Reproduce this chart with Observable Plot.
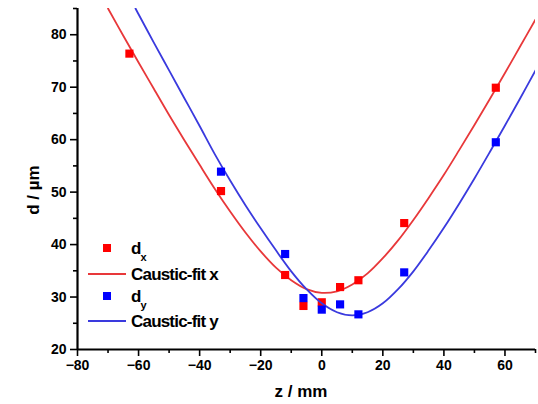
<!DOCTYPE html>
<html>
<head>
<meta charset="utf-8">
<script src="https://cdn.jsdelivr.net/npm/d3@7"></script>
<script src="https://cdn.jsdelivr.net/npm/@observablehq/plot@0.6"></script>
<style>
  html, body { margin: 0; padding: 0; background: #fff; }
  #chart svg text { font-family: "Liberation Sans", Arial, sans-serif; font-weight: bold; }
</style>
</head>
<body>
<div id="chart"></div>
<script>
// Measured points
const zX = [-63, -33, -12, -6, 0, 6, 12, 27, 57];
const dX = [76.4, 50.2, 34.2, 28.3, 29.0, 31.9, 33.2, 44.1, 69.9];
const zY = [-33, -12, -6, 0, 6, 12, 27, 57];
const dY = [53.9, 38.2, 29.8, 27.6, 28.6, 26.7, 34.7, 59.5];

// Fit curves
const fitXz = [-70, -65, -60, -55, -50, -45, -40, -35, -30, -25, -20, -15, -10, -5, 0, 5, 10, 15, 20, 25, 30, 35, 40, 45, 50, 55, 60, 65, 70];
const fitXd = [85.0, 79.8, 74.7, 69.7, 64.7, 59.9, 55.2, 50.6, 46.3, 42.3, 38.7, 35.6, 33.2, 31.5, 30.8, 31.1, 32.4, 34.5, 37.4, 40.8, 44.7, 48.9, 53.3, 58.0, 62.8, 67.7, 72.7, 77.8, 82.9];
const fitYz = [-61, -60, -55, -50, -45, -40, -35, -30, -25, -20, -15, -10, -5, 0, 5, 10, 15, 20, 25, 30, 35, 40, 45, 50, 55, 60, 65, 70];
const fitYd = [85.0, 83.9, 78.5, 73.2, 67.9, 62.6, 57.2, 52.2, 47.5, 43.1, 38.9, 34.9, 31.5, 28.8, 27.1, 26.5, 27.1, 28.8, 31.5, 34.9, 38.9, 43.2, 47.8, 52.6, 57.6, 62.7, 67.9, 73.2];

// Ticks
const xMajor = [-80, -60, -40, -20, 0, 20, 40, 60];
const xMinor = [-70, -50, -30, -10, 10, 30, 50, 70];
const yMajor = [20, 30, 40, 50, 60, 70, 80];
const yMinor = [25, 35, 45, 55, 65, 75, 85];

const ptsX = zX.map((z, i) => ({z, d: dX[i]}));
const ptsY = zY.map((z, i) => ({z, d: dY[i]}));
const lineX = fitXz.map((z, i) => ({z, d: fitXd[i]}));
const lineY = fitYz.map((z, i) => ({z, d: fitYd[i]}));

const red = "#ff0000", blue = "#0000ff";
const redLine = "#e8383a", blueLine = "#3a3ade";

const chart = Plot.plot({
  width: 538,
  height: 404,
  marginLeft: 77,
  marginRight: 3,
  marginTop: 8,
  marginBottom: 55,
  style: {background: "white", color: "black", fontSize: "14px"},
  x: {domain: [-80, 70]},
  y: {domain: [20, 85]},
  marks: [
    Plot.axisX({ticks: xMajor, tickSize: 7, tickPadding: 4, label: null, strokeWidth: 1.6, fontSize: 14}),
    Plot.axisX({ticks: xMinor, tickSize: 4, tickFormat: () => "", label: null, strokeWidth: 1.6}),
    Plot.axisY({ticks: yMajor, tickSize: 7, tickPadding: 4, label: null, strokeWidth: 1.6, fontSize: 14}),
    Plot.axisY({ticks: yMinor, tickSize: 4, tickFormat: () => "", label: null, strokeWidth: 1.6}),
    Plot.ruleX([-80], {stroke: "black", strokeWidth: 2.2}),
    Plot.ruleY([20], {stroke: "black", strokeWidth: 2.2}),
    Plot.line(lineX, {x: "z", y: "d", stroke: redLine, strokeWidth: 1.8, curve: "catmull-rom", clip: true}),
    Plot.dot(ptsX, {x: "z", y: "d", symbol: "square", r: 4.6, fill: red, stroke: "none"}),
    Plot.line(lineY, {x: "z", y: "d", stroke: blueLine, strokeWidth: 1.8, curve: "catmull-rom", clip: true}),
    Plot.dot(ptsY, {x: "z", y: "d", symbol: "square", r: 4.6, fill: blue, stroke: "none"})
  ]
});

document.getElementById("chart").appendChild(chart);

const svg = d3.select(chart);
// Axis labels
svg.append("text")
  .attr("x", 301).attr("y", 397)
  .attr("text-anchor", "middle")
  .attr("font-size", 17)
  .attr("fill", "black")
  .text("z / mm");
svg.append("text")
  .attr("transform", "translate(39,190) rotate(-90)")
  .attr("text-anchor", "middle")
  .attr("font-size", 17)
  .attr("fill", "black")
  .text("d / µm");

// Legend
const leg = svg.append("g").attr("text-anchor", "start");
const items = [
  {type: "sq", color: red, cy: 248, main: "d", sub: "x"},
  {type: "ln", color: redLine, cy: 274, main: "Caustic-fit x"},
  {type: "sq", color: blue, cy: 296, main: "d", sub: "y"},
  {type: "ln", color: blueLine, cy: 321, main: "Caustic-fit y"}
];
for (const it of items) {
  if (it.type === "sq") {
    leg.append("rect").attr("x", 103).attr("y", it.cy - 4).attr("width", 8).attr("height", 8).attr("fill", it.color);
  } else {
    leg.append("line").attr("x1", 88).attr("x2", 126).attr("y1", it.cy).attr("y2", it.cy)
      .attr("stroke", it.color).attr("stroke-width", 1.8);
  }
  const t = leg.append("text")
    .attr("x", 131).attr("y", it.cy + 6)
    .attr("text-anchor", "start")
    .attr("font-size", 17)
    .attr("letter-spacing", "-0.8px")
    .attr("fill", "black");
  t.append("tspan").text(it.main);
  if (it.sub) {
    t.append("tspan").attr("dy", 7).attr("font-size", 11).attr("letter-spacing", "0").text(it.sub);
  }
}
</script>
</body>
</html>
